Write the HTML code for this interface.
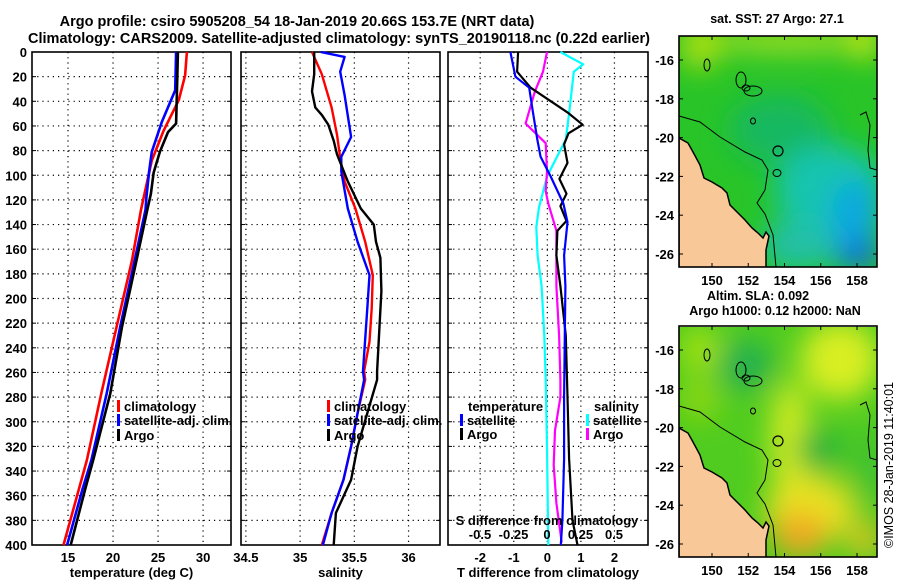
<!DOCTYPE html>
<html><head><meta charset="utf-8"><style>
body{margin:0;background:#fff;}
svg{display:block;font-family:"Liberation Sans",sans-serif;font-weight:bold;}
</style></head><body>
<svg id="c" width="900" height="580" viewBox="0 0 900 580">
<defs>
<filter id="bl" x="-50%" y="-50%" width="200%" height="200%"><feGaussianBlur stdDeviation="14"/></filter>
<clipPath id="m1c"><rect x="679" y="36" width="198" height="231"/></clipPath>
<clipPath id="m2c"><rect x="679" y="327" width="198" height="230"/></clipPath>
</defs>
<text x="297" y="26" font-size="14.5" text-anchor="middle">Argo profile: csiro 5905208_54 18-Jan-2019 20.66S 153.7E (NRT data)</text>
<text x="339" y="43" font-size="14.5" text-anchor="middle" textLength="622">Climatology: CARS2009. Satellite-adjusted climatology: synTS_20190118.nc (0.22d earlier)</text>
<g id="plots"></g>
<g id="maps"></g>
<text transform="translate(893,465) rotate(-90)" font-size="12.5" font-weight="normal" text-anchor="middle">©IMOS 28-Jan-2019 11:40:01</text>
</svg>
<script>
// ---- data ----
const depthTicks=[0,20,40,60,80,100,120,140,160,180,200,220,240,260,280,300,320,340,360,380,400];
const tTicks=[15,20,25,30];
const sTicks=[34.5,35,35.5,36];
const dTTicks=[-2,-1,0,1,2];
const dSTicks=[-0.5,-0.25,0,0.25,0.5];
const dSTickLabels=["-0.5","-0.25","0","0.25","0.5"];
const tempClimD=[0,19,39,64,88,118,128,169,223,277,331,355,400];
const tempClimV=[28.2,28,27.3,25.6,24.3,23.4,23.1,22.1,20.4,18.7,17.1,16.2,14.5];
const tempSatD=[0,31,57,81,97,118,128,169,223,277,331,355,400];
const tempSatV=[27.0,26.9,25.4,24.3,24.0,23.7,23.6,22.4,20.8,19.3,17.6,16.6,14.9];
const tempArgoD=[0,30,58,65,81,98,115,128,169,223,277,331,355,400];
const tempArgoV=[27.2,27.1,27.0,26.1,25.2,24.5,24.2,23.8,22.6,21.0,19.7,17.8,16.9,15.3];
const salClimD=[0,18,45,67,86,105,127,154,181,208,235,259,266,293,320,347,374,400];
const salClimV=[35.11,35.2,35.29,35.34,35.37,35.41,35.51,35.6,35.67,35.66,35.64,35.59,35.6,35.53,35.47,35.4,35.29,35.2];
const salSatD=[0,4,16,35,69,85,97,127,154,181,208,259,266,293,320,347,374,400];
const salSatV=[35.19,35.41,35.37,35.41,35.47,35.38,35.38,35.44,35.53,35.64,35.62,35.58,35.59,35.53,35.47,35.4,35.29,35.21];
const salArgoD=[0,18,32,45,51,59,72,83,105,127,140,154,167,194,259,266,293,320,347,374,400];
const salArgoV=[35.13,35.13,35.11,35.14,35.2,35.26,35.31,35.34,35.44,35.56,35.68,35.7,35.74,35.75,35.71,35.71,35.62,35.53,35.47,35.33,35.31];
const dTSatD=[0,20,29,45,71,85,101,123,138,165,190,230,280,330,380,400];
const dTSatV=[-1.1,-0.95,-0.54,-0.45,-0.3,-0.2,0.1,0.48,0.6,0.5,0.54,0.52,0.5,0.5,0.45,0.4];
const dTArgoD=[0,16,29,49,59,66,75,90,103,115,125,137,145,165,190,230,280,330,380,400];
const dTArgoV=[-0.87,-0.9,-0.5,0.6,1.05,0.63,0.5,0.6,0.36,0.57,0.39,0.57,0.3,0.27,0.39,0.55,0.6,0.65,0.75,0.9];
const dSSatD=[0,10,16,45,71,86,101,126,142,165,190,230,266,320,400];
const dSSatV=[0.1,0.27,0.2,0.17,0.14,0.07,0,-0.06,-0.08,-0.07,-0.04,-0.02,-0.01,0,0.01];
const dSArgoD=[0,16,32,58,74,97,113,123,145,165,190,230,266,280,307,335,366,398];
const dSArgoV=[0,-0.03,-0.09,-0.16,-0.01,0,-0.01,0.01,0.07,0.07,0.07,0.09,0.1,0.1,0.06,0.05,0.07,0.11];
const mapLonTicks=[150,152,154,156,158];
const mapLatTicks=[-16,-18,-20,-22,-24,-26];

const NS='http://www.w3.org/2000/svg';
function mk(tag,attrs,parent){const e=document.createElementNS(NS,tag);for(const k in attrs)e.setAttribute(k,attrs[k]);parent.appendChild(e);return e;}
const Y0=52,Y1=545;
const y=d=>Y0+(Y1-Y0)*d/400;
const plots=document.getElementById('plots');
const panels=[
 {x0:32,x1:231,lo:11,hi:33.1,ticks:tTicks,labels:tTicks.map(String),name:'temperature-panel',title:'temperature (deg C)'},
 {x0:241,x1:440,lo:34.455,hi:36.29,ticks:sTicks,labels:sTicks.map(String),name:'salinity-panel',title:'salinity'},
 {x0:448,x1:648,lo:-2.96,hi:3.0,ticks:dTTicks,labels:dTTicks.map(String),name:'difference-panel',title:'T difference from climatology'}
];
panels.forEach((p,i)=>{
 p.sx=v=>p.x0+(p.x1-p.x0)*(v-p.lo)/(p.hi-p.lo);
 const g=mk('g',{},plots);
 
 
 depthTicks.forEach(d=>{
  if(d>0&&d<400){const l=mk('line',{x1:p.x0,x2:p.x1,y1:y(d),y2:y(d),stroke:'#000','stroke-width':1.2,'stroke-dasharray':'1.2 4'},g);
  }
  mk('line',{x1:p.x0,x2:p.x0+4,y1:y(d),y2:y(d),stroke:'#000'},g);
  mk('line',{x1:p.x1,x2:p.x1-4,y1:y(d),y2:y(d),stroke:'#000'},g);
  if(i===0){const t=mk('text',{x:27,y:y(d)+5,'font-size':13,'text-anchor':'end'},g);t.textContent=d;
   }
 });
 p.ticks.forEach((v,j)=>{
  const xx=p.sx(v);
  const l=mk('line',{x1:xx,x2:xx,y1:Y0,y2:Y1,stroke:'#000','stroke-width':1.2,'stroke-dasharray':'1.2 4'},g);
  
  const t=mk('text',{x:xx,y:562,'font-size':13,'text-anchor':'middle'},g);t.textContent=p.labels[j];
  
 });
 const r=mk('rect',{x:p.x0,y:Y0,width:p.x1-p.x0,height:Y1-Y0,fill:'none',stroke:'#000','stroke-width':1.6},g);
 
 const tt=mk('text',{x:(p.x0+p.x1)/2,y:577,'font-size':13,'text-anchor':'middle'},g);tt.textContent=p.title;
 
});
function line(p,D,V,col,w,name,scale){
 const pts=D.map((d,k)=>(scale?scale(V[k]):p.sx(V[k])).toFixed(1)+','+y(d).toFixed(1)).join(' ');
 const e=mk('polyline',{points:pts,fill:'none',stroke:col,'stroke-width':w,'stroke-linejoin':'round'},plots);
 
 
}
const P=panels;
line(P[0],tempClimD,tempClimV,'#f00',2.6,'temp-climatology-line');
line(P[0],tempSatD,tempSatV,'#00f',2.6,'temp-satellite-line');
line(P[0],tempArgoD,tempArgoV,'#000',2.6,'temp-argo-line');
line(P[1],salClimD,salClimV,'#f00',2.4,'sal-climatology-line');
line(P[1],salSatD,salSatV,'#00f',2.4,'sal-satellite-line');
line(P[1],salArgoD,salArgoV,'#000',2.4,'sal-argo-line');
const sS=v=>547+v*134;
line(P[2],dSSatD,dSSatV,'#0ff',2.2,'dS-satellite-line',sS);
line(P[2],dSArgoD,dSArgoV,'#f0f',2.2,'dS-argo-line',sS);
line(P[2],dTArgoD,dTArgoV,'#000',2.2,'dT-argo-line');
line(P[2],dTSatD,dTSatV,'#00f',2.2,'dT-satellite-line');
dSTicks.forEach((v,j)=>{const t=mk('text',{x:sS(v),y:539,'font-size':13,'text-anchor':'middle'},plots);t.textContent=dSTickLabels[j];
 });
{const t=mk('text',{x:547,y:525,'font-size':13,'text-anchor':'middle'},plots);t.textContent='S difference from climatology';
 }
function legend(x,yy,col,label,name){
 const g=mk('g',{},plots);
 if(col)mk('rect',{x:x,y:yy-11,width:3,height:12,fill:col},g);
 const t=mk('text',{x:col?x+7:x,y:yy,'font-size':13},g);t.textContent=label;
}
legend(117,411,'#f00','climatology','legend-climatology');
legend(117,425,'#00f','satellite-adj. clim.','legend-satellite');
legend(117,440,'#000','Argo','legend-argo');
legend(327,411,'#f00','climatology','legend-climatology');
legend(327,425,'#00f','satellite-adj. clim.','legend-satellite');
legend(327,440,'#000','Argo','legend-argo');
legend(468,411,null,'temperature','legend-temperature-header');
legend(460,425,'#00f','satellite','legend-t-satellite');
legend(460,439,'#000','Argo','legend-t-argo');
legend(594,411,null,'salinity','legend-salinity-header');
legend(586,425,'#0ff','satellite','legend-s-satellite');
legend(586,439,'#f0f','Argo','legend-s-argo');

// ---- maps ----
const maps=document.getElementById('maps');
const lonX=l=>712+(l-150)*18.125;
function drawMap(dy,base,blobs,clip,name,title){
 const g=mk('g',{},maps);
 const latY=la=>60+dy+(-16-la)*19.4;
 const inner=mk('g',{'clip-path':'url(#'+clip+')'},g);
 mk('rect',{x:679,y:36+dy,width:198,height:231,fill:base},inner);
 const bg=mk('g',{filter:'url(#bl)'},inner);
 blobs.forEach(b=>mk('ellipse',{cx:b[0],cy:b[1]+dy,rx:b[2],ry:b[3],fill:b[4]},bg));
 const land=[[679,138],[688,143],[693,152],[700,165],[704,178],[712,182],[722,188],[727,193],[730,205],[737,212],[745,220],[752,228],[758,233],[763,238],[766,232],[769,236],[766,250],[766,270],[679,270]];
 const lp=mk('polygon',{points:land.map(q=>q[0]+','+(q[1]+dy)).join(' '),fill:'#f8c898',stroke:'#000','stroke-width':1.5},inner);
 
 mk('polyline',{points:[[679,116],[700,122],[720,137],[745,152],[762,160],[768,170],[765,190],[757,203],[765,214],[773,235],[776,267]].map(q=>q[0]+','+(q[1]+dy)).join(' '),fill:'none',stroke:'#000','stroke-width':1},inner);
 mk('polyline',{points:[[860,115],[866,112],[870,125],[868,150],[870,168],[877,170]].map(q=>q[0]+','+(q[1]+dy)).join(' '),fill:'none',stroke:'#000','stroke-width':1},inner);
 mk('circle',{cx:778,cy:151+dy,r:5,fill:'none',stroke:'#000','stroke-width':1.2},inner);
 mk('ellipse',{cx:777,cy:173+dy,rx:4,ry:3.5,fill:'none',stroke:'#000','stroke-width':1},inner);
 mk('ellipse',{cx:753,cy:91+dy,rx:9,ry:5,fill:'none',stroke:'#000','stroke-width':1},inner);
 mk('ellipse',{cx:741,cy:80+dy,rx:5,ry:8,fill:'none',stroke:'#000','stroke-width':1},inner);
 mk('ellipse',{cx:746,cy:88+dy,rx:4,ry:3,fill:'none',stroke:'#000','stroke-width':1},inner);
 mk('ellipse',{cx:707,cy:65+dy,rx:3,ry:6,fill:'none',stroke:'#000','stroke-width':1},inner);
 mk('ellipse',{cx:753,cy:121+dy,rx:2.5,ry:3,fill:'none',stroke:'#000','stroke-width':1},inner);
 mk('rect',{x:679,y:36+dy,width:198,height:231,fill:'none',stroke:'#000','stroke-width':1.6},g);
 mapLonTicks.forEach(l=>{const xx=lonX(l);
  mk('line',{x1:xx,x2:xx,y1:36+dy,y2:40+dy,stroke:'#000'},g);
  mk('line',{x1:xx,x2:xx,y1:267+dy,y2:263+dy,stroke:'#000'},g);
  const t=mk('text',{x:xx,y:285+dy,'font-size':13,'text-anchor':'middle'},g);t.textContent=l;
  });
 mapLatTicks.forEach(la=>{const yy=latY(la);
  mk('line',{x1:679,x2:683,y1:yy,y2:yy,stroke:'#000'},g);
  mk('line',{x1:877,x2:873,y1:yy,y2:yy,stroke:'#000'},g);
  const t=mk('text',{x:674,y:yy+5,'font-size':13,'text-anchor':'end'},g);t.textContent=la;
  });
 title.forEach(tl=>{const t=mk('text',{x:tl[0],y:tl[1],'font-size':12.5,'text-anchor':'middle'},g);t.textContent=tl[2];
  });
}
drawMap(0,'#28c428',[
 [790,40,90,12,'#a8e020'],[700,45,20,25,'#b0e010'],[865,40,15,20,'#d0e810'],
 [780,130,50,35,'#18b860'],[830,190,55,45,'#18c4b0'],[855,215,25,35,'#10a8e0'],[858,255,22,15,'#1068e8'],[800,245,40,25,'#20c0a8']
],'m1c','sst-map',[[777,23,'sat. SST: 27 Argo: 27.1']]);
drawMap(290,'#50cc20',[
 [840,70,40,40,'#d8ee20'],[745,75,28,25,'#20b050'],[790,150,20,60,'#d0ea20'],[810,220,45,35,'#e8e020'],
 [818,160,22,20,'#20b040'],[800,245,28,22,'#f0a820'],[865,250,15,18,'#f0c020'],
 [870,180,15,40,'#40c030'],[700,60,20,25,'#a0e010'],[700,110,20,20,'#90d810']
],'m2c','sla-map',[[758,300,'Altim. SLA: 0.092'],[775,315,'Argo h1000: 0.12 h2000: NaN']]);
</script>
</body></html>
